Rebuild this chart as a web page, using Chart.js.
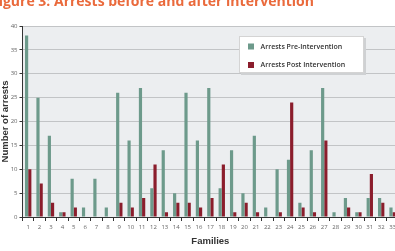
<!DOCTYPE html>
<html>
<head>
<meta charset="utf-8">
<script src="https://cdn.jsdelivr.net/npm/chart.js@4"></script>
<style>
  html, body { margin: 0; padding: 0; background: #fff; overflow: hidden; }
  #wrap { position: relative; width: 395px; height: 251px; overflow: hidden; }
  #title { position: absolute; left: -9px; top: -9px; white-space: nowrap;
    font: bold 14px "Open Sans", sans-serif; color: #ea6a3c; }
  canvas { position: absolute; left: 0; top: 0; }
</style>
</head>
<body>
<div id="wrap">
  <canvas id="chart" width="399" height="251"></canvas>
  <div id="title">Figure 3: Arrests before and after intervention</div>
</div>
<script>
const families = ['1','2','3','4','5','6','7','8','9','10','11','12','13','14','15','16','17','18','19','20','21','22','23','24','25','26','27','28','29','30','31','32','33'];
const preIntervention  = [38,25,17,1,8,2,8,2,26,16,27,6,14,5,26,16,27,6,14,5,17,2,10,12,3,14,27,1,4,1,4,4,2];
const postIntervention = [10,7,3,1,2,0,0,0,3,2,4,11,1,3,3,2,4,11,1,3,1,0,1,24,2,1,16,0,2,1,9,3,1];
const yTicks = [0,5,10,15,20,25,30,35,40];

const plotBg = {
  id: 'plotBg',
  beforeDraw(chart) {
    const {ctx, chartArea: a} = chart;
    ctx.save();
    ctx.fillStyle = '#eceef0';
    ctx.fillRect(a.left, a.top, a.right - a.left, a.bottom - a.top);
    ctx.restore();
  }
};

// legend box drawn inside the plot, top right
const boxLegend = {
  id: 'boxLegend',
  afterDraw(chart) {
    const ctx = chart.ctx;
    const x = 239, y = 36, w = 125, h = 37;
    ctx.save();
    ctx.fillStyle = '#cfd1d3';
    ctx.fillRect(x + 2, y + 2, w, h);
    ctx.fillStyle = '#fff';
    ctx.fillRect(x, y, w, h);
    ctx.strokeStyle = '#d4d4d4';
    ctx.lineWidth = 1;
    ctx.strokeRect(x + 0.5, y + 0.5, w - 1, h - 1);
    ctx.font = '600 7px "Open Sans", sans-serif';
    ctx.textBaseline = 'middle';
    chart.data.datasets.forEach((ds, i) => {
      const cy = y + 10.5 + i * 18.5;
      ctx.fillStyle = ds.backgroundColor;
      ctx.fillRect(x + 9, cy - 3, 6, 6);
      ctx.fillStyle = '#333';
      ctx.fillText(ds.label, x + 21.5, cy);
    });
    ctx.restore();
  }
};

new Chart(document.getElementById('chart'), {
  type: 'bar',
  data: {
    labels: families,
    datasets: [
      { label: 'Arrests Pre-Intervention', data: preIntervention, backgroundColor: '#6d9a8b' },
      { label: 'Arrests Post Intervention', data: postIntervention, backgroundColor: '#8b1d2c' }
    ]
  },
  options: {
    responsive: false,
    animation: false,
    devicePixelRatio: 1,
    layout: { padding: { top: 26, right: 0, left: 0, bottom: 4 } },
    datasets: { bar: { categoryPercentage: 0.56, barPercentage: 1.0 } },
    plugins: { legend: { display: false }, tooltip: { enabled: false } },
    scales: {
      x: {
        grid: { drawOnChartArea: false, drawTicks: true, tickLength: 4, color: '#333', offset: true },
        border: { color: '#333', width: 1 },
        ticks: { color: '#666', font: { size: 6, family: 'Open Sans' }, padding: 3, maxRotation: 0, autoSkip: false },
        title: { display: true, text: 'Families', color: '#333', font: { size: 9.5, weight: 'bold', family: 'Liberation Sans' }, padding: { top: 3, bottom: 0 } },
        afterFit(s) { s.height = 30; }
      },
      y: {
        min: 0, max: 40,
        afterBuildTicks(s) { s.ticks = yTicks.map(v => ({ value: v })); },
        grid: { color: '#c2c4c6', tickColor: '#333', tickLength: 3 },
        border: { color: '#333', width: 1 },
        ticks: { color: '#666', font: { size: 6, family: 'Open Sans' }, padding: 2 },
        title: { display: true, text: 'Number of arrests', color: '#333', font: { size: 9.5, weight: 'bold', family: 'Liberation Sans' }, padding: { top: 0, bottom: 2 } },
        afterFit(s) { s.width = 22.5; }
      }
    }
  },
  plugins: [plotBg, boxLegend]
});
</script>
</body>
</html>
